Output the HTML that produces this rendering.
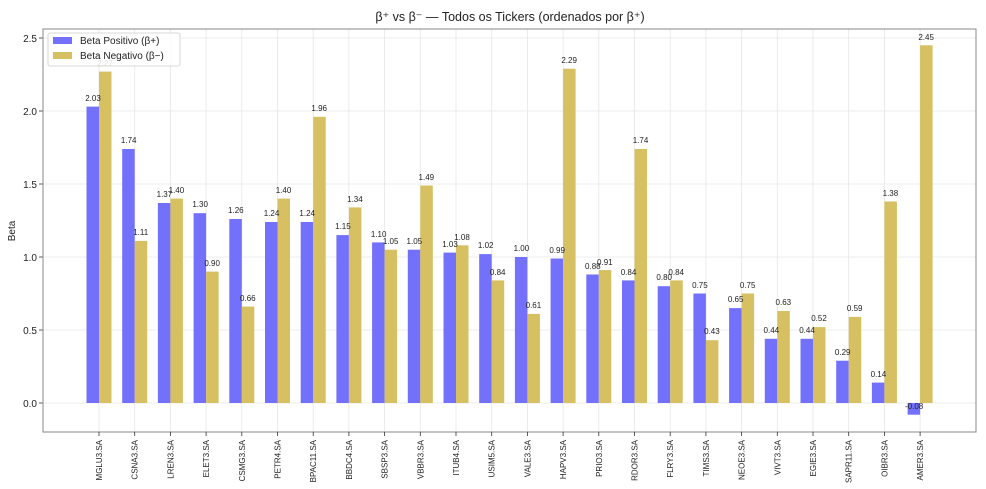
<!DOCTYPE html>
<html><head><meta charset="utf-8"><style>
body{margin:0;background:#fff}
svg{display:block;font-family:"Liberation Sans","DejaVu Sans",sans-serif}
.v{font-size:8px;fill:#222;text-anchor:middle}
.t{font-size:8px;fill:#222;text-anchor:end}
.g{stroke:#e6e6e6;stroke-width:0.8}
.b{fill:#7370fb}
.o{fill:#d6c062}
</style></head><body>
<svg width="986" height="489" viewBox="0 0 986 489">
<text x="510" y="21" font-size="12.5" text-anchor="middle" fill="#222">β⁺ vs β⁻ — Todos os Tickers (ordenados por β⁺)</text>
<text transform="translate(15,231) rotate(-90)" font-size="10" text-anchor="middle" fill="#222">Beta</text>
<g class="g">
<line x1="43" x2="976" y1="403" y2="403"/><line x1="43" x2="976" y1="330" y2="330"/><line x1="43" x2="976" y1="257" y2="257"/><line x1="43" x2="976" y1="184" y2="184"/><line x1="43" x2="976" y1="111" y2="111"/><line x1="43" x2="976" y1="38" y2="38"/>
</g>
<g class="g" id="vg">
<line x1="99" x2="99" y1="29" y2="432"/><line x1="134.7" x2="134.7" y1="29" y2="432"/><line x1="170.4" x2="170.4" y1="29" y2="432"/><line x1="206.1" x2="206.1" y1="29" y2="432"/><line x1="241.8" x2="241.8" y1="29" y2="432"/><line x1="277.5" x2="277.5" y1="29" y2="432"/><line x1="313.2" x2="313.2" y1="29" y2="432"/><line x1="348.9" x2="348.9" y1="29" y2="432"/><line x1="384.6" x2="384.6" y1="29" y2="432"/><line x1="420.3" x2="420.3" y1="29" y2="432"/><line x1="456" x2="456" y1="29" y2="432"/><line x1="491.7" x2="491.7" y1="29" y2="432"/><line x1="527.4" x2="527.4" y1="29" y2="432"/><line x1="563.1" x2="563.1" y1="29" y2="432"/><line x1="598.8" x2="598.8" y1="29" y2="432"/><line x1="634.5" x2="634.5" y1="29" y2="432"/><line x1="670.2" x2="670.2" y1="29" y2="432"/><line x1="705.9" x2="705.9" y1="29" y2="432"/><line x1="741.6" x2="741.6" y1="29" y2="432"/><line x1="777.3" x2="777.3" y1="29" y2="432"/><line x1="813" x2="813" y1="29" y2="432"/><line x1="848.7" x2="848.7" y1="29" y2="432"/><line x1="884.4" x2="884.4" y1="29" y2="432"/><line x1="920.1" x2="920.1" y1="29" y2="432"/>
</g>
<g font-size="10" fill="#222" text-anchor="end">
<text x="37" y="407">0.0</text><text x="37" y="334">0.5</text><text x="37" y="261">1.0</text><text x="37" y="188">1.5</text><text x="37" y="115">2.0</text><text x="37" y="42">2.5</text>
</g>
<g stroke="#333" stroke-width="0.8">
<line x1="39" x2="43" y1="403" y2="403"/><line x1="39" x2="43" y1="330" y2="330"/><line x1="39" x2="43" y1="257" y2="257"/><line x1="39" x2="43" y1="184" y2="184"/><line x1="39" x2="43" y1="111" y2="111"/><line x1="39" x2="43" y1="38" y2="38"/>
</g>

<g transform="translate(99,0)"><rect class="b" x="-12.5" y="106.6" width="12.5" height="296.4"/><rect class="o" x="0" y="71.6" width="12.5" height="331.4"/><text class="v" x="-6" y="101">2.03</text><text class="v" x="6" y="66">2.27</text></g>
<g transform="translate(134.7,0)"><rect class="b" x="-12.5" y="149" width="12.5" height="254"/><rect class="o" x="0" y="240.9" width="12.5" height="162.1"/><text class="v" x="-6" y="143">1.74</text><text class="v" x="6" y="235">1.11</text></g>
<g transform="translate(170.4,0)"><rect class="b" x="-12.5" y="203" width="12.5" height="200"/><rect class="o" x="0" y="198.6" width="12.5" height="204.4"/><text class="v" x="-6" y="197">1.37</text><text class="v" x="6" y="193">1.40</text></g>
<g transform="translate(206.1,0)"><rect class="b" x="-12.5" y="213.2" width="12.5" height="189.8"/><rect class="o" x="0" y="271.6" width="12.5" height="131.4"/><text class="v" x="-6" y="207">1.30</text><text class="v" x="6" y="266">0.90</text></g>
<g transform="translate(241.8,0)"><rect class="b" x="-12.5" y="219" width="12.5" height="184"/><rect class="o" x="0" y="306.6" width="12.5" height="96.4"/><text class="v" x="-6" y="213">1.26</text><text class="v" x="6" y="301">0.66</text></g>
<g transform="translate(277.5,0)"><rect class="b" x="-12.5" y="222" width="12.5" height="181"/><rect class="o" x="0" y="198.6" width="12.5" height="204.4"/><text class="v" x="-6" y="216">1.24</text><text class="v" x="6" y="193">1.40</text></g>
<g transform="translate(313.2,0)"><rect class="b" x="-12.5" y="222" width="12.5" height="181"/><rect class="o" x="0" y="116.8" width="12.5" height="286.2"/><text class="v" x="-6" y="216">1.24</text><text class="v" x="6" y="111">1.96</text></g>
<g transform="translate(348.9,0)"><rect class="b" x="-12.5" y="235.1" width="12.5" height="167.9"/><rect class="o" x="0" y="207.4" width="12.5" height="195.6"/><text class="v" x="-6" y="229">1.15</text><text class="v" x="6" y="202">1.34</text></g>
<g transform="translate(384.6,0)"><rect class="b" x="-12.5" y="242.4" width="12.5" height="160.6"/><rect class="o" x="0" y="249.7" width="12.5" height="153.3"/><text class="v" x="-6" y="237">1.10</text><text class="v" x="6" y="244">1.05</text></g>
<g transform="translate(420.3,0)"><rect class="b" x="-12.5" y="249.7" width="12.5" height="153.3"/><rect class="o" x="0" y="185.5" width="12.5" height="217.5"/><text class="v" x="-6" y="244">1.05</text><text class="v" x="6" y="180">1.49</text></g>
<g transform="translate(456,0)"><rect class="b" x="-12.5" y="252.6" width="12.5" height="150.4"/><rect class="o" x="0" y="245.3" width="12.5" height="157.7"/><text class="v" x="-6" y="247">1.03</text><text class="v" x="6" y="240">1.08</text></g>
<g transform="translate(491.7,0)"><rect class="b" x="-12.5" y="254.1" width="12.5" height="148.9"/><rect class="o" x="0" y="280.4" width="12.5" height="122.6"/><text class="v" x="-6" y="248">1.02</text><text class="v" x="6" y="275">0.84</text></g>
<g transform="translate(527.4,0)"><rect class="b" x="-12.5" y="257" width="12.5" height="146"/><rect class="o" x="0" y="313.9" width="12.5" height="89.1"/><text class="v" x="-6" y="251">1.00</text><text class="v" x="6" y="308">0.61</text></g>
<g transform="translate(563.1,0)"><rect class="b" x="-12.5" y="258.5" width="12.5" height="144.5"/><rect class="o" x="0" y="68.7" width="12.5" height="334.3"/><text class="v" x="-6" y="253">0.99</text><text class="v" x="6" y="63">2.29</text></g>
<g transform="translate(598.8,0)"><rect class="b" x="-12.5" y="274.5" width="12.5" height="128.5"/><rect class="o" x="0" y="270.1" width="12.5" height="132.9"/><text class="v" x="-6" y="269">0.88</text><text class="v" x="6" y="265">0.91</text></g>
<g transform="translate(634.5,0)"><rect class="b" x="-12.5" y="280.4" width="12.5" height="122.6"/><rect class="o" x="0" y="149" width="12.5" height="254"/><text class="v" x="-6" y="275">0.84</text><text class="v" x="6" y="143">1.74</text></g>
<g transform="translate(670.2,0)"><rect class="b" x="-12.5" y="286.2" width="12.5" height="116.8"/><rect class="o" x="0" y="280.4" width="12.5" height="122.6"/><text class="v" x="-6" y="280">0.80</text><text class="v" x="6" y="275">0.84</text></g>
<g transform="translate(705.9,0)"><rect class="b" x="-12.5" y="293.5" width="12.5" height="109.5"/><rect class="o" x="0" y="340.2" width="12.5" height="62.8"/><text class="v" x="-6" y="288">0.75</text><text class="v" x="6" y="334">0.43</text></g>
<g transform="translate(741.6,0)"><rect class="b" x="-12.5" y="308.1" width="12.5" height="94.9"/><rect class="o" x="0" y="293.5" width="12.5" height="109.5"/><text class="v" x="-6" y="302">0.65</text><text class="v" x="6" y="288">0.75</text></g>
<g transform="translate(777.3,0)"><rect class="b" x="-12.5" y="338.8" width="12.5" height="64.2"/><rect class="o" x="0" y="311" width="12.5" height="92"/><text class="v" x="-6" y="333">0.44</text><text class="v" x="6" y="305">0.63</text></g>
<g transform="translate(813,0)"><rect class="b" x="-12.5" y="338.8" width="12.5" height="64.2"/><rect class="o" x="0" y="327.1" width="12.5" height="75.9"/><text class="v" x="-6" y="333">0.44</text><text class="v" x="6" y="321">0.52</text></g>
<g transform="translate(848.7,0)"><rect class="b" x="-12.5" y="360.7" width="12.5" height="42.3"/><rect class="o" x="0" y="316.9" width="12.5" height="86.1"/><text class="v" x="-6" y="355">0.29</text><text class="v" x="6" y="311">0.59</text></g>
<g transform="translate(884.4,0)"><rect class="b" x="-12.5" y="382.6" width="12.5" height="20.4"/><rect class="o" x="0" y="201.5" width="12.5" height="201.5"/><text class="v" x="-6" y="377">0.14</text><text class="v" x="6" y="196">1.38</text></g>
<g transform="translate(920.1,0)"><rect class="b" x="-12.5" y="403" width="12.5" height="11.7"/><rect class="o" x="0" y="45.3" width="12.5" height="357.7"/><text class="v" x="-6" y="409">-0.08</text><text class="v" x="6" y="40">2.45</text></g>

<rect x="43" y="29" width="933" height="403" fill="none" stroke="#888" stroke-width="1"/>

<g stroke="#333" stroke-width="0.8">
<line x1="99" x2="99" y1="432" y2="436"/><line x1="134.7" x2="134.7" y1="432" y2="436"/><line x1="170.4" x2="170.4" y1="432" y2="436"/><line x1="206.1" x2="206.1" y1="432" y2="436"/><line x1="241.8" x2="241.8" y1="432" y2="436"/><line x1="277.5" x2="277.5" y1="432" y2="436"/><line x1="313.2" x2="313.2" y1="432" y2="436"/><line x1="348.9" x2="348.9" y1="432" y2="436"/><line x1="384.6" x2="384.6" y1="432" y2="436"/><line x1="420.3" x2="420.3" y1="432" y2="436"/><line x1="456" x2="456" y1="432" y2="436"/><line x1="491.7" x2="491.7" y1="432" y2="436"/><line x1="527.4" x2="527.4" y1="432" y2="436"/><line x1="563.1" x2="563.1" y1="432" y2="436"/><line x1="598.8" x2="598.8" y1="432" y2="436"/><line x1="634.5" x2="634.5" y1="432" y2="436"/><line x1="670.2" x2="670.2" y1="432" y2="436"/><line x1="705.9" x2="705.9" y1="432" y2="436"/><line x1="741.6" x2="741.6" y1="432" y2="436"/><line x1="777.3" x2="777.3" y1="432" y2="436"/><line x1="813" x2="813" y1="432" y2="436"/><line x1="848.7" x2="848.7" y1="432" y2="436"/><line x1="884.4" x2="884.4" y1="432" y2="436"/><line x1="920.1" x2="920.1" y1="432" y2="436"/>
</g>
<g>
<text class="t" transform="translate(102,440) rotate(-90)">MGLU3.SA</text>
<text class="t" transform="translate(137.7,440) rotate(-90)">CSNA3.SA</text>
<text class="t" transform="translate(173.4,440) rotate(-90)">LREN3.SA</text>
<text class="t" transform="translate(209.1,440) rotate(-90)">ELET3.SA</text>
<text class="t" transform="translate(244.8,440) rotate(-90)">CSMG3.SA</text>
<text class="t" transform="translate(280.5,440) rotate(-90)">PETR4.SA</text>
<text class="t" transform="translate(316.2,440) rotate(-90)">BPAC11.SA</text>
<text class="t" transform="translate(351.9,440) rotate(-90)">BBDC4.SA</text>
<text class="t" transform="translate(387.6,440) rotate(-90)">SBSP3.SA</text>
<text class="t" transform="translate(423.3,440) rotate(-90)">VBBR3.SA</text>
<text class="t" transform="translate(459,440) rotate(-90)">ITUB4.SA</text>
<text class="t" transform="translate(494.7,440) rotate(-90)">USIM5.SA</text>
<text class="t" transform="translate(530.4,440) rotate(-90)">VALE3.SA</text>
<text class="t" transform="translate(566.1,440) rotate(-90)">HAPV3.SA</text>
<text class="t" transform="translate(601.8,440) rotate(-90)">PRIO3.SA</text>
<text class="t" transform="translate(637.5,440) rotate(-90)">RDOR3.SA</text>
<text class="t" transform="translate(673.2,440) rotate(-90)">FLRY3.SA</text>
<text class="t" transform="translate(708.9,440) rotate(-90)">TIMS3.SA</text>
<text class="t" transform="translate(744.6,440) rotate(-90)">NEOE3.SA</text>
<text class="t" transform="translate(780.3,440) rotate(-90)">VIVT3.SA</text>
<text class="t" transform="translate(816,440) rotate(-90)">EGIE3.SA</text>
<text class="t" transform="translate(851.7,440) rotate(-90)">SAPR11.SA</text>
<text class="t" transform="translate(887.4,440) rotate(-90)">OIBR3.SA</text>
<text class="t" transform="translate(923.1,440) rotate(-90)">AMER3.SA</text>
</g>

<rect x="48" y="33" width="132" height="33" rx="2" fill="#fff" fill-opacity="0.85" stroke="#ccc" stroke-width="0.8"/>
<rect class="b" x="53" y="37" width="19" height="7"/>
<rect class="o" x="53" y="52" width="19" height="7"/>
<text x="80" y="44" font-size="10" fill="#222">Beta Positivo (β+)</text>
<text x="80" y="59" font-size="10" fill="#222">Beta Negativo (β−)</text>
</svg>
</body></html>
